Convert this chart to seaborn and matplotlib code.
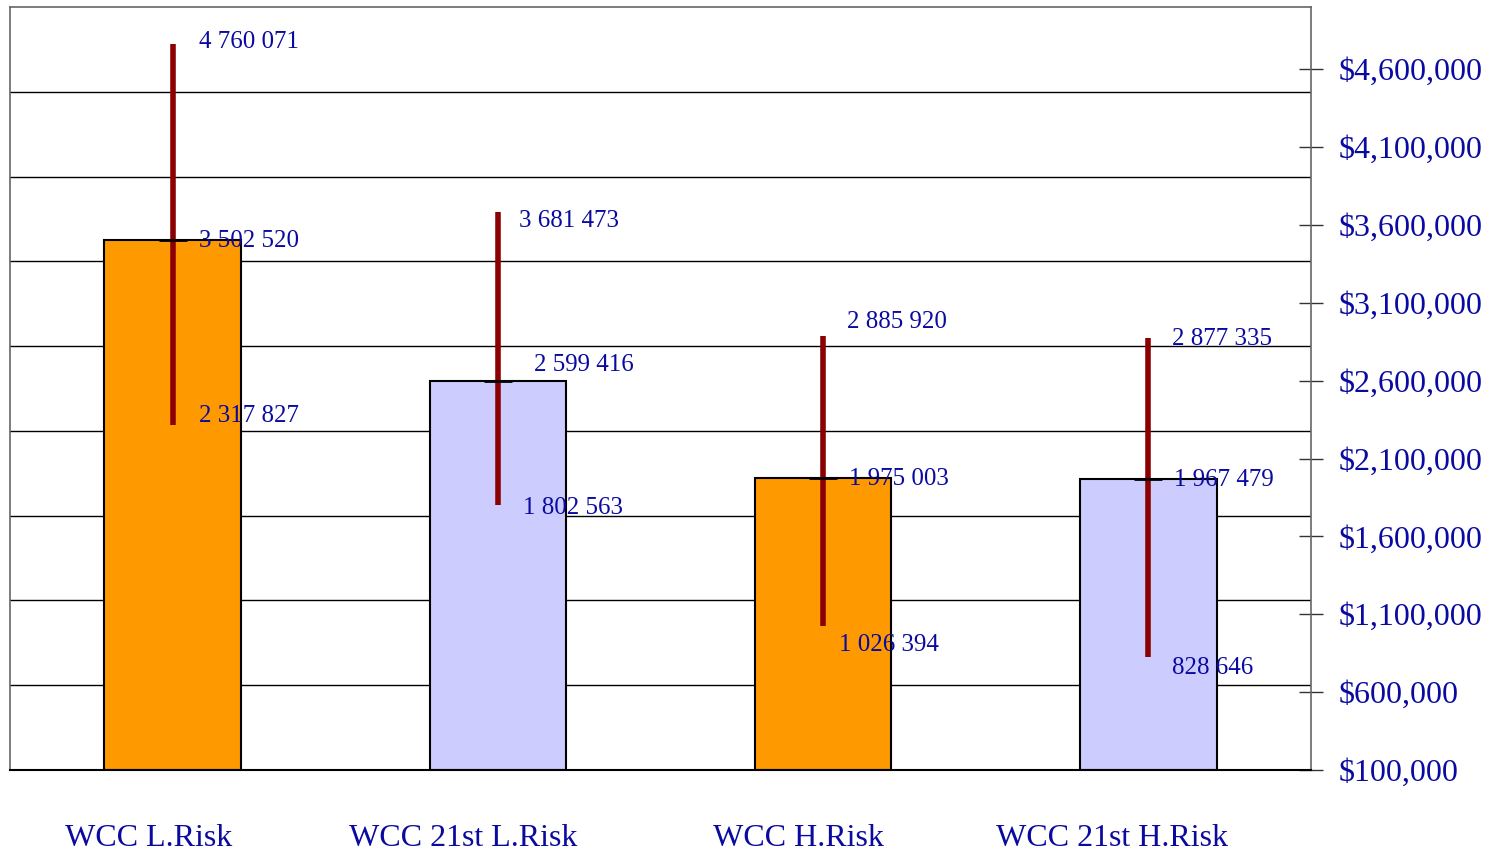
import numpy as np
import pandas as pd
import seaborn as sns
import matplotlib.pyplot as plt
import matplotlib.transforms as mtransforms
from matplotlib.ticker import FuncFormatter

categories = ['WCC L.Risk', 'WCC 21st L.Risk', 'WCC H.Risk', 'WCC 21st H.Risk']
mean_vals = [3502520, 2599416, 1975003, 1967479]
high_vals = [4760071, 3681473, 2885920, 2877335]
low_vals = [2317827, 1802563, 1026394, 828646]
bar_colors = ['#FF9900', '#CCCCFF', '#FF9900', '#CCCCFF']
y_ticks = [100000, 600000, 1100000, 1600000, 2100000, 2600000, 3100000, 3600000, 4100000, 4600000]

# label nudges in pixels (dx, dy) for high / mean / low labels
high_off = [(26, 2), (21, -9), (24, 14), (24, -1)]
mean_off = [(26, -1), (36, 16), (26, -1), (26, -1)]
low_off = [(26, 9), (25, -3), (16, -19), (24, -11)]
# category label nudges in pixels
cat_off = [-24, -35, -25, -36]

txt_blue = '#0A0AA0'

sns.set_style('white')
plt.rcParams['font.family'] = ['Liberation Serif', 'DejaVu Serif']

df = pd.DataFrame({'cat': categories, 'mean': mean_vals})

fig = plt.figure(figsize=(14.93, 8.52), dpi=100)
ax = fig.add_axes([10 / 1493, 1 - 770 / 852, 1301 / 1493, 763 / 852])

ylo, yhi = 100000, 5000000
ax.set_ylim(ylo, yhi)
ax.set_xlim(-0.5, 3.5)

# gridlines: 9 equal bands, independent of ticks
for g in np.linspace(ylo, yhi, 10)[1:-1]:
    ax.axhline(g, color='black', lw=1, zorder=0)

sns.barplot(data=df, x='cat', y='mean', hue='cat', palette=bar_colors, legend=False,
            saturation=1, width=0.42, edgecolor='black', linewidth=1.5, ax=ax, zorder=2)
for p in ax.patches:
    p.set_y(ylo)
    p.set_height(p.get_height() - ylo)

xs = np.arange(len(categories))
ax.vlines(xs, low_vals, high_vals, color='#8B0000', lw=4, zorder=3)
ax.plot(xs, mean_vals, marker='_', ms=20, mew=2, color='black', ls='none', zorder=4)

pt = 72 / 100
for i in xs:
    for v, (dx, dy) in ((high_vals[i], high_off[i]), (mean_vals[i], mean_off[i]),
                        (low_vals[i], low_off[i])):
        ax.annotate(f'{v:,}'.replace(',', ' '), (i, v), xytext=(dx * pt, dy * pt),
                    textcoords='offset points', ha='left', va='center',
                    fontsize=18, color=txt_blue, zorder=5)

ax.yaxis.tick_right()
ax.set_yticks(y_ticks)
ax.yaxis.set_major_formatter(FuncFormatter(lambda v, p: f'${v:,.0f}'))
ax.tick_params(axis='y', direction='inout', length=24 * pt, width=1, color='#333333',
               labelsize=23, labelcolor=txt_blue, pad=16 * pt, right=True, left=False)
ax.tick_params(axis='x', length=0, labelsize=23, labelcolor=txt_blue, pad=54 * pt)
ax.set_xticks(xs)
ax.set_xticklabels(categories)
for lab, off in zip(ax.get_xticklabels(), cat_off):
    lab.set_transform(lab.get_transform() +
                      mtransforms.ScaledTranslation(off / 100, 0, fig.dpi_scale_trans))
ax.set_xlabel('')
ax.set_ylabel('')

for s in ['left', 'top', 'right']:
    ax.spines[s].set_color('#666666')
    ax.spines[s].set_linewidth(1.2)
ax.spines['bottom'].set_color('black')
ax.spines['bottom'].set_linewidth(1.5)

fig.savefig('out.png', dpi=100)
